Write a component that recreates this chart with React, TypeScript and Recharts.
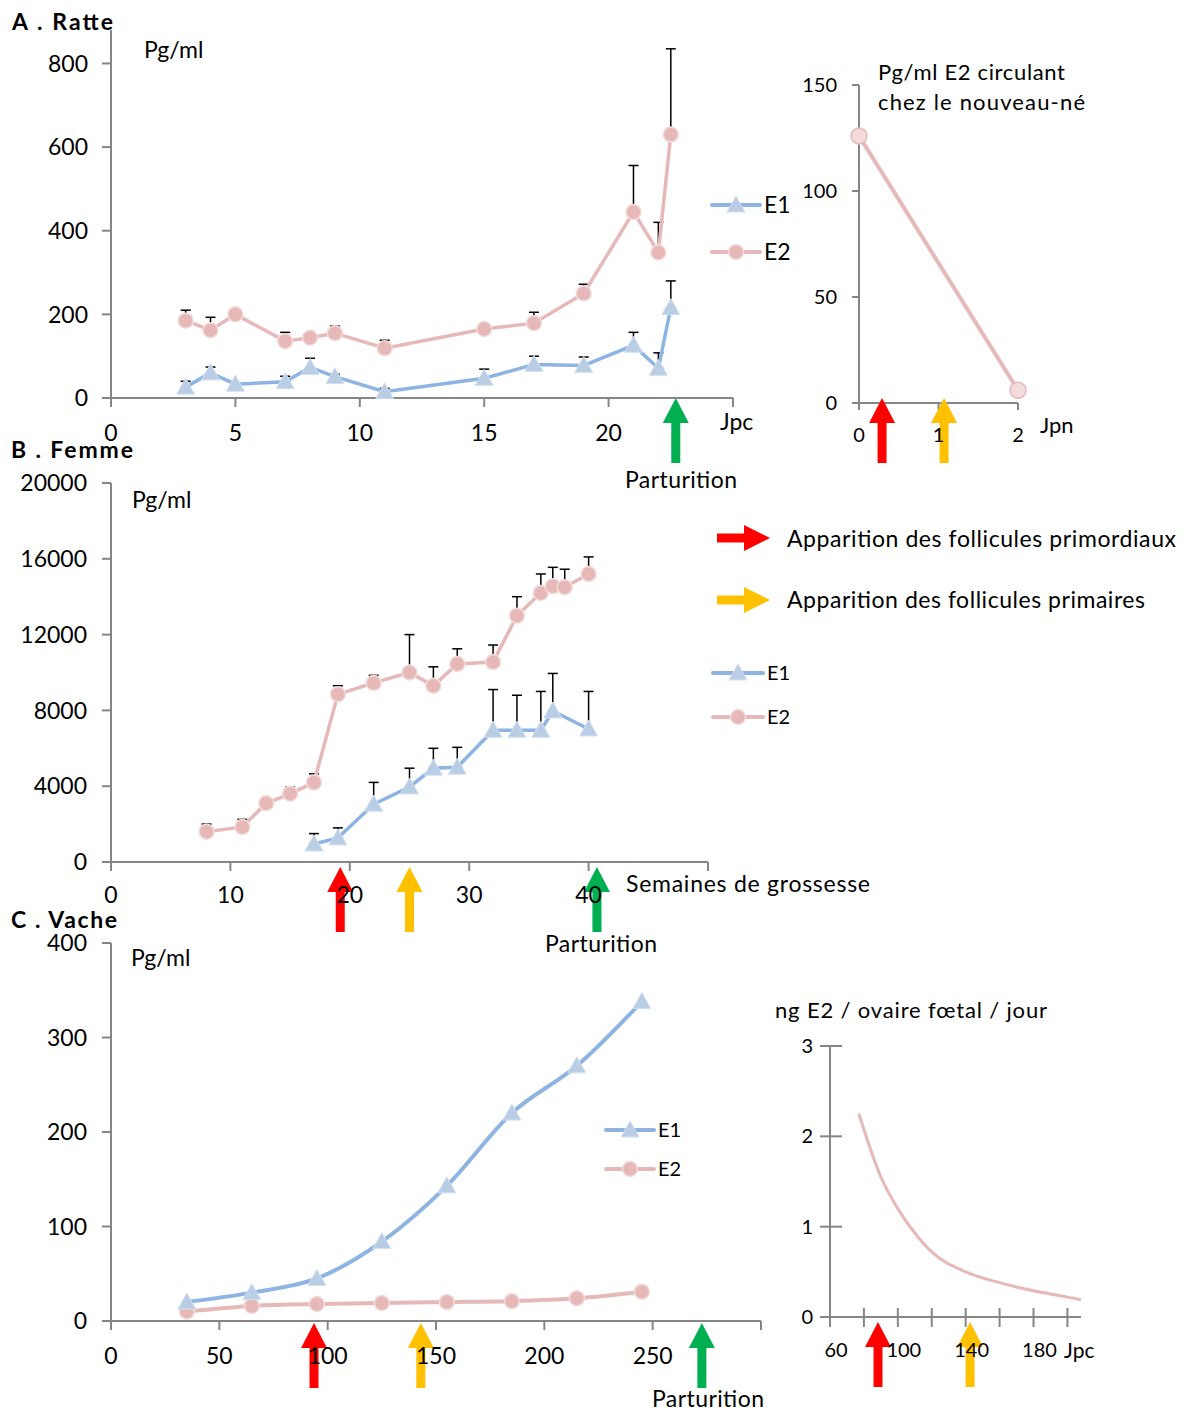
import React from 'react';
import { LineChart, Line, XAxis, YAxis, ErrorBar, ReferenceDot } from 'recharts';

const FONT = 'Lato, "Open Sans", "DejaVu Sans", sans-serif';
const AXIS = '#868686';
const PINK = '#E6B9B8';
const PINK_LIGHT = '#F2DCDB';
const BLUE = '#8DB4E2';
const BLUE_LIGHT = '#B9CDE5';
const RED = '#FF0000';
const YELLOW = '#FFC000';
const GREEN = '#00B050';

// ---------- A. Ratte (Jpc) ----------
const ratDays = [3, 4, 5, 7, 8, 9, 11, 15, 17, 19, 21, 22, 22.5];
const ratE1 = [26, 60, 33, 39, 73, 51, 15, 47, 80, 78, 126, 71, 216];
const ratE1Err = [14, 14, 0, 13, 22, 6, 8, 22, 20, 20, 31, 37, 64];
const ratE2 = [185, 162, 200, 136, 144, 155, 119, 165, 179, 250, 445, 348, 630];
const ratE2Err = [25, 31, 0, 21, 0, 17, 19, 0, 26, 22, 111, 72, 205];
const ratXTicks = [0, 5, 10, 15, 20, 25];
const ratYTicks = [0, 200, 400, 600, 800];
const ratBirth = [22.7];

// ---------- A. nouveau-né (Jpn) ----------
const nbDays = [0, 2];
const nbE2 = [126, 6];
const nbXTicks = [0, 1, 2];
const nbYTicks = [0, 50, 100, 150];
const nbPrimordial = [0.29];
const nbPrimary = [1.07];

// ---------- B. Femme (semaines) ----------
const womE2Weeks = [8, 11, 13, 15, 17, 19, 22, 25, 27, 29, 32, 34, 36, 37, 38, 40];
const womE2 = [1600, 1850, 3100, 3600, 4200, 8850, 9450, 10000, 9300, 10450, 10550, 13000, 14200, 14550, 14500, 15200];
const womE2Err = [400, 400, 0, 350, 450, 450, 400, 2000, 1000, 800, 900, 1000, 1000, 1000, 950, 900];
const womE1Weeks = [17, 19, 22, 25, 27, 29, 32, 34, 36, 37, 40];
const womE1 = [950, 1270, 3050, 3960, 4950, 5000, 6950, 6950, 6950, 7970, 7020];
const womE1Err = [550, 530, 1150, 990, 1050, 1050, 2150, 1850, 2050, 1980, 1980];
const womXTicks = [0, 10, 20, 30, 40, 50];
const womYTicks = [0, 4000, 8000, 12000, 16000, 20000];
const womPrimordial = [19.2];
const womPrimary = [25];
const womBirth = [40.7];

// ---------- C. Vache (Jpc) ----------
const cowDays = [35, 65, 95, 125, 155, 185, 215, 245];
const cowE1 = [20, 30, 45, 84, 143, 220, 270, 338];
const cowE2 = [10, 16, 18, 19, 20, 21, 24, 31];
const cowXTicks = [0, 50, 100, 150, 200, 250, 300];
const cowYTicks = [0, 100, 200, 300, 400];
const cowPrimordial = [93.7];
const cowPrimary = [143];
const cowBirth = [272.7];

// ---------- C. ovaire fœtal (ng E2 / jour) ----------
const ovDays = [77, 90, 100, 110, 120, 140, 160, 180, 200, 208];
const ovE2 = [2.25, 1.55, 1.2, 0.93, 0.72, 0.5, 0.38, 0.29, 0.22, 0.19];
const ovXTicks = [60, 80, 100, 120, 140, 160, 180, 200];
const ovXLabels = [60, 100, 140, 180];
const ovYTicks = [0, 1, 2, 3];
const ovPrimordial = [88.3];
const ovPrimary = [142.6];

// ---------- builders ----------
const series = (xs: number[], ys: number[], errs?: number[]) =>
  xs.map((x, i) => ({ x, y: ys[i], err: errs ? [0, errs[i]] : undefined }));

const ratE1Data = series(ratDays, ratE1, ratE1Err);
const ratE2Data = series(ratDays, ratE2, ratE2Err);
const nbE2Data = series(nbDays, nbE2);
const womE1Data = series(womE1Weeks, womE1, womE1Err);
const womE2Data = series(womE2Weeks, womE2, womE2Err);
const cowE1Data = series(cowDays, cowE1);
const cowE2Data = series(cowDays, cowE2);
const ovData = series(ovDays, ovE2);

// ---------- marks ----------
const triangleDot = (props: any) => {
  const { cx, cy, index } = props;
  if (cx == null || cy == null) return <g key={`t${index}`} />;
  return (
    <polygon
      key={`t${index}`}
      points={`${cx},${cy - 9} ${cx + 9},${cy + 7} ${cx - 9},${cy + 7}`}
      fill={BLUE_LIGHT}
      stroke="#D3E0F1"
      strokeWidth={1}
    />
  );
};

const circleDot = (props: any) => {
  const { cx, cy, index } = props;
  if (cx == null || cy == null) return <g key={`c${index}`} />;
  return <circle key={`c${index}`} cx={cx} cy={cy} r={7.5} fill={PINK} stroke={PINK_LIGHT} strokeWidth={1.5} />;
};

const bigCircleDot = (props: any) => {
  const { cx, cy, index } = props;
  if (cx == null || cy == null) return <g key={`b${index}`} />;
  return <circle key={`b${index}`} cx={cx} cy={cy} r={8} fill={PINK_LIGHT} stroke={PINK} strokeWidth={1.5} />;
};

const upArrow = (color: string, offset: number) => (props: any) => {
  const { cx, cy } = props;
  const tip = cy + offset;
  const len = 65;
  const hw = 13;
  const hh = 25;
  const sw = 4.5;
  return (
    <polygon
      points={`${cx},${tip} ${cx + hw},${tip + hh} ${cx + sw},${tip + hh} ${cx + sw},${tip + len} ${cx - sw},${tip + len} ${cx - sw},${tip + hh} ${cx - hw},${tip + hh}`}
      fill={color}
    />
  );
};

const arrowDots = (xs: number[], color: string, offset: number, prefix: string) =>
  xs.map((x, i) => (
    <ReferenceDot key={`${prefix}${i}`} x={x} y={0} r={1} ifOverflow="visible" shape={upArrow(color, offset)} />
  ));

const axisLine = { stroke: AXIS, strokeWidth: 2 };
const tickStyle = (size: number) => ({ fill: '#000', fontSize: size, fontFamily: FONT });

// cross ticks for the fœtal ovary inset
const CrossYTick = (props: any) => {
  const { x, y, payload } = props;
  const ax = x + 10 + 7;
  return (
    <g>
      <line x1={ax - 10} x2={ax + 12} y1={y} y2={y} stroke={AXIS} strokeWidth={2} />
      <text x={x} y={y} dy="0.355em" textAnchor="end" fontSize={20} fontFamily={FONT} fill="#000">
        {payload.value}
      </text>
    </g>
  );
};

const CrossXTick = (props: any) => {
  const { x, y, payload } = props;
  const ay = y - 10 - 16;
  const show = ovXLabels.includes(payload.value);
  return (
    <g>
      <line x1={x} x2={x} y1={ay - 9} y2={ay + 10} stroke={AXIS} strokeWidth={2} />
      {show ? (
        <text x={x + 6} y={y} dy="0.71em" textAnchor="middle" fontSize={20} fontFamily={FONT} fill="#000">
          {payload.value}
        </text>
      ) : null}
    </g>
  );
};

const Box = ({ left, top, children }: any) => (
  <div style={{ position: 'absolute', left, top }}>{children}</div>
);

// ---------- overlay texts / legends ----------
const T = ({ x, y, size = 23, bold = false, children, anchor = 'start', len }: any) => (
  <text
    x={x}
    y={y}
    fontSize={size}
    fontFamily={FONT}
    fontWeight={bold ? 700 : 400}
    textAnchor={anchor}
    fill="#000"
    {...(len ? { textLength: len, lengthAdjust: 'spacing' } : {})}
  >
    {children}
  </text>
);

const LegendRow = ({ x1, x2, y, kind, label, size = 23 }: any) => {
  const mx = (x1 + x2) / 2;
  return (
    <g>
      <line x1={x1} x2={x2} y1={y} y2={y} stroke={kind === 'tri' ? BLUE : PINK} strokeWidth={4} strokeLinecap="round" />
      {kind === 'tri'
        ? triangleDot({ cx: mx, cy: y, index: 0 })
        : circleDot({ cx: mx, cy: y, index: 0 })}
      <text x={x2 + 4} y={y + size * 0.36} fontSize={size} fontFamily={FONT} fill="#000">
        {label}
      </text>
    </g>
  );
};

const RightArrow = ({ x, y, color }: any) => (
  <polygon
    points={`${x},${y - 4.5} ${x + 27},${y - 4.5} ${x + 27},${y - 13} ${x + 53},${y} ${x + 27},${y + 13} ${x + 27},${y + 4.5} ${x},${y + 4.5}`}
    fill={color}
  />
);

const Overlay = () => (
  <svg width={1184} height={1412} style={{ position: 'absolute', left: 0, top: 0, pointerEvents: 'none' }}>
    <T x={12} y={30} size={23} bold len={101}>A . Ratte</T>
    <T x={11} y={458} size={23} bold len={122}>B . Femme</T>
    <T x={11} y={928} size={23} bold len={106}>C . Vache</T>

    <T x={144} y={58}>Pg/ml</T>
    <T x={132} y={508}>Pg/ml</T>
    <T x={131} y={966}>Pg/ml</T>

    <T x={720} y={430}>Jpc</T>
    <T x={625} y={488} len={112}>Parturition</T>

    <T x={878} y={80} size={22} len={187}>Pg/ml E2 circulant</T>
    <T x={878} y={110} size={22} len={207}>chez le nouveau-né</T>
    <T x={1040} y={433} size={22}>Jpn</T>

    <LegendRow x1={712} x2={760} y={205} kind="tri" label="E1" />
    <LegendRow x1={712} x2={760} y={252} kind="circ" label="E2" />

    <RightArrow x={717} y={538} color={RED} />
    <T x={787} y={547} len={389}>Apparition des follicules primordiaux</T>
    <RightArrow x={717} y={600} color={YELLOW} />
    <T x={787} y={608} len={358}>Apparition des follicules primaires</T>

    <LegendRow x1={713} x2={763} y={673} kind="tri" label="E1" size={20} />
    <LegendRow x1={713} x2={763} y={717} kind="circ" label="E2" size={20} />

    <T x={626} y={892} len={244}>Semaines de grossesse</T>
    <T x={545} y={952} len={112}>Parturition</T>

    <LegendRow x1={606} x2={654} y={1130} kind="tri" label="E1" size={20} />
    <LegendRow x1={606} x2={654} y={1169} kind="circ" label="E2" size={20} />

    <T x={652} y={1407} len={112}>Parturition</T>
    <T x={775} y={1018} size={22} len={272}>ng E2 / ovaire fœtal / jour</T>
    <T x={1064} y={1358} size={21}>Jpc</T>
  </svg>
);

export default function App() {
  return (
    <div style={{ position: 'absolute', left: 0, top: 0, width: 1184, height: 1412, background: '#fff', fontFamily: FONT }}>
      {/* A. Ratte */}
      <Box left={0} top={0}>
        <LineChart width={760} height={475} margin={{ top: 30, right: 27, left: 51, bottom: 37 }}>
          <XAxis
            type="number"
            dataKey="x"
            domain={[0, 25]}
            ticks={ratXTicks}
            interval={0}
            height={40}
            tickSize={9}
            tickMargin={18}
            axisLine={axisLine}
            tickLine={axisLine}
            tick={tickStyle(23)}
            tickFormatter={(v: number) => (v === 25 ? '' : String(v))}
          />
          <YAxis
            type="number"
            domain={[0, 880]}
            ticks={ratYTicks}
            interval={0}
            width={60}
            tickSize={9}
            tickMargin={14}
            axisLine={axisLine}
            tickLine={axisLine}
            tick={tickStyle(23)}
          />
          <Line data={ratE2Data} dataKey="y" type="linear" stroke={PINK} strokeWidth={3.5} dot={circleDot} activeDot={false} isAnimationActive={false}>
            <ErrorBar dataKey="err" width={5} stroke="#000" strokeWidth={1.5} direction="y" />
          </Line>
          <Line data={ratE1Data} dataKey="y" type="linear" stroke={BLUE} strokeWidth={3.5} dot={triangleDot} activeDot={false} isAnimationActive={false}>
            <ErrorBar dataKey="err" width={5} stroke="#000" strokeWidth={1.5} direction="y" />
          </Line>
          {arrowDots(ratBirth, GREEN, 0, 'rb')}
        </LineChart>
      </Box>

      {/* A. nouveau-né */}
      <Box left={770} top={50}>
        <LineChart width={330} height={420} margin={{ top: 35, right: 82, left: 39, bottom: 27 }}>
          <XAxis
            type="number"
            dataKey="x"
            domain={[0, 2]}
            ticks={nbXTicks}
            interval={0}
            height={40}
            tickSize={7}
            tickMargin={18}
            axisLine={axisLine}
            tickLine={axisLine}
            tick={tickStyle(20)}
          />
          <YAxis
            type="number"
            domain={[0, 150]}
            ticks={nbYTicks}
            interval={0}
            width={50}
            tickSize={7}
            tickMargin={15}
            axisLine={axisLine}
            tickLine={axisLine}
            tick={tickStyle(20)}
          />
          <Line data={nbE2Data} dataKey="y" type="linear" stroke={PINK} strokeWidth={4} dot={bigCircleDot} activeDot={false} isAnimationActive={false} />
          {arrowDots(nbPrimordial, RED, -5, 'np')}
          {arrowDots(nbPrimary, YELLOW, -5, 'nq')}
        </LineChart>
      </Box>

      {/* B. Femme */}
      <Box left={0} top={460}>
        <LineChart width={720} height={480} margin={{ top: 23, right: 12, left: 31, bottom: 38 }}>
          <XAxis
            type="number"
            dataKey="x"
            domain={[0, 50]}
            ticks={womXTicks}
            interval={0}
            height={40}
            tickSize={9}
            tickMargin={16}
            axisLine={axisLine}
            tickLine={axisLine}
            tick={tickStyle(23)}
            tickFormatter={(v: number) => (v === 50 ? '' : String(v))}
          />
          <YAxis
            type="number"
            domain={[0, 20000]}
            ticks={womYTicks}
            interval={0}
            width={80}
            tickSize={9}
            tickMargin={15}
            axisLine={axisLine}
            tickLine={axisLine}
            tick={tickStyle(23)}
          />
          <Line data={womE2Data} dataKey="y" type="linear" stroke={PINK} strokeWidth={3.5} dot={circleDot} activeDot={false} isAnimationActive={false}>
            <ErrorBar dataKey="err" width={5} stroke="#000" strokeWidth={1.5} direction="y" />
          </Line>
          <Line data={womE1Data} dataKey="y" type="linear" stroke={BLUE} strokeWidth={3.5} dot={triangleDot} activeDot={false} isAnimationActive={false}>
            <ErrorBar dataKey="err" width={5} stroke="#000" strokeWidth={1.5} direction="y" />
          </Line>
          {arrowDots(womPrimordial, RED, 5, 'wp')}
          {arrowDots(womPrimary, YELLOW, 5, 'wq')}
          {arrowDots(womBirth, GREEN, 5, 'wb')}
        </LineChart>
      </Box>

      {/* C. Vache */}
      <Box left={0} top={920}>
        <LineChart width={780} height={480} margin={{ top: 23, right: 19, left: 51, bottom: 39 }}>
          <XAxis
            type="number"
            dataKey="x"
            domain={[0, 300]}
            ticks={cowXTicks}
            interval={0}
            height={40}
            tickSize={9}
            tickMargin={18}
            axisLine={axisLine}
            tickLine={axisLine}
            tick={tickStyle(23)}
            tickFormatter={(v: number) => (v === 300 ? '' : String(v))}
          />
          <YAxis
            type="number"
            domain={[0, 400]}
            ticks={cowYTicks}
            interval={0}
            width={60}
            tickSize={9}
            tickMargin={15}
            axisLine={axisLine}
            tickLine={axisLine}
            tick={tickStyle(23)}
          />
          <Line data={cowE2Data} dataKey="y" type="monotone" stroke={PINK} strokeWidth={4} dot={circleDot} activeDot={false} isAnimationActive={false} />
          <Line data={cowE1Data} dataKey="y" type="monotone" stroke={BLUE} strokeWidth={4} dot={triangleDot} activeDot={false} isAnimationActive={false} />
          {arrowDots(cowPrimordial, RED, 2, 'cp')}
          {arrowDots(cowPrimary, YELLOW, 2, 'cq')}
          {arrowDots(cowBirth, GREEN, 2, 'cb')}
        </LineChart>
      </Box>

      {/* C. ovaire fœtal */}
      <Box left={770} top={1030}>
        <LineChart width={330} height={370} margin={{ top: 16, right: 19, left: 20, bottom: 43 }}>
          <XAxis
            type="number"
            dataKey="x"
            domain={[60, 208]}
            ticks={ovXTicks}
            interval={0}
            height={40}
            tickSize={10}
            tickMargin={16}
            axisLine={axisLine}
            tickLine={false}
            tick={CrossXTick}
          />
          <YAxis
            type="number"
            domain={[0, 3]}
            ticks={ovYTicks}
            interval={0}
            width={40}
            tickSize={10}
            tickMargin={7}
            axisLine={axisLine}
            tickLine={false}
            tick={CrossYTick}
          />
          <Line data={ovData} dataKey="y" type="monotone" stroke={PINK} strokeWidth={3} dot={false} activeDot={false} isAnimationActive={false} />
          {arrowDots(ovPrimordial, RED, 5, 'op')}
          {arrowDots(ovPrimary, YELLOW, 5, 'oq')}
        </LineChart>
      </Box>

      <Overlay />
    </div>
  );
}
